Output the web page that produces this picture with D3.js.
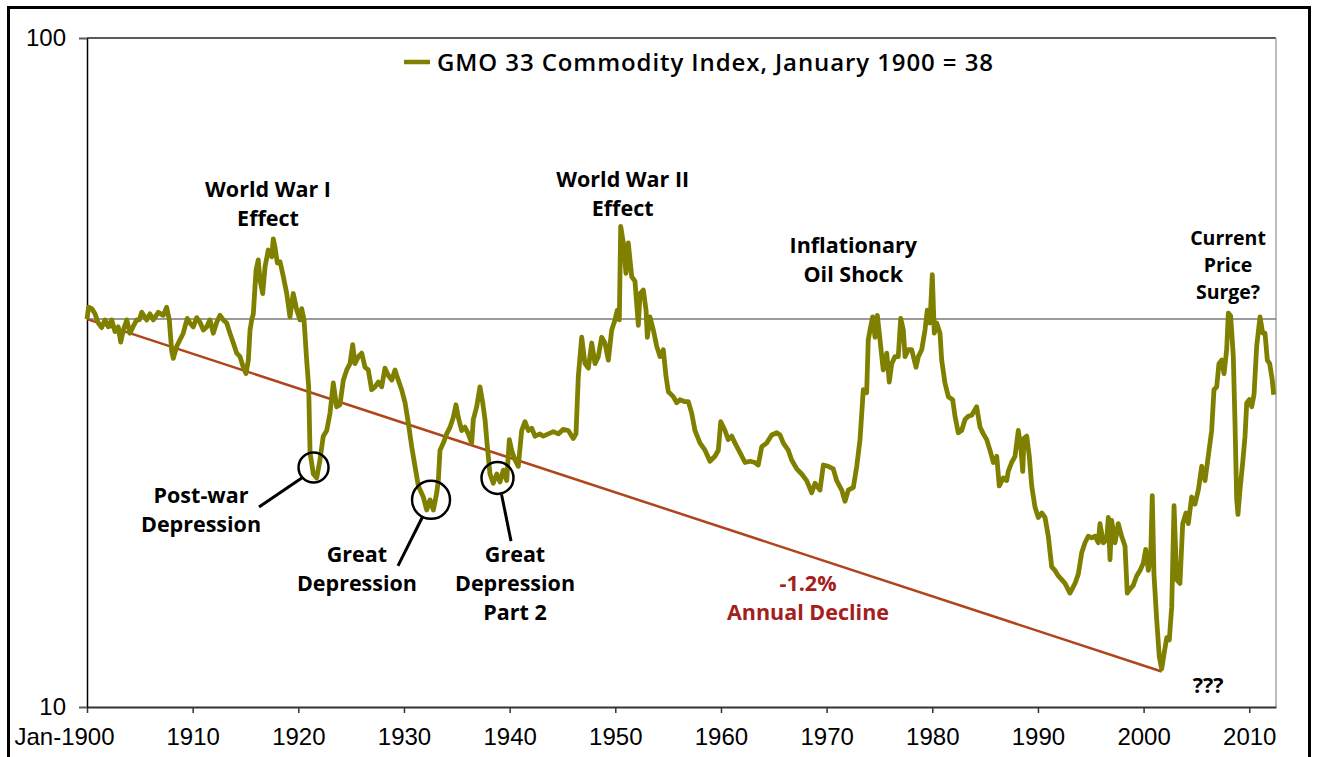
<!DOCTYPE html>
<html>
<head>
<meta charset="utf-8">
<script src="https://cdn.jsdelivr.net/npm/d3@7"></script>
<style>
  html, body { margin: 0; padding: 0; background: #fff; }
  svg { display: block; }
  .note { font-family: "Open Sans", sans-serif; font-weight: 700; font-size: 21.5px; fill: #000; text-anchor: middle; }
  .note.red { fill: #a3201c; }
  .note.tight { font-size: 19.5px; }
  .legend-text { font-family: "Open Sans", sans-serif; font-weight: 600; font-size: 24px; fill: #000; }
  .axis text { font-family: "Liberation Sans", Arial, sans-serif; font-size: 24px; fill: #000; }
</style>
</head>
<body>
<div id="chart"></div>
<script>
// GMO 33 commodity index, [year, value]
var gmoIndex = [
  [1900.0, 38.0], [1900.15, 39.6], [1900.45, 39.4], [1900.76, 38.7], [1901.07, 37.5], [1901.39, 36.9],
  [1901.7, 37.9], [1902.02, 37.0], [1902.34, 37.9], [1902.65, 36.4], [1902.96, 37.0], [1903.19, 35.1],
  [1903.44, 36.6], [1903.76, 37.9], [1904.07, 36.2], [1904.35, 37.0], [1904.7, 37.9], [1904.95, 37.9],
  [1905.18, 38.9], [1905.65, 37.9], [1905.96, 38.7], [1906.27, 37.9], [1906.75, 38.9], [1907.22, 38.5],
  [1907.54, 39.6], [1907.79, 37.9], [1908.02, 34.0], [1908.17, 33.2], [1908.49, 34.6], [1908.8, 35.4],
  [1909.11, 36.2], [1909.49, 38.1], [1909.75, 37.5], [1910.06, 37.0], [1910.38, 38.2], [1910.69, 37.6],
  [1911.01, 36.6], [1911.33, 37.0], [1911.64, 37.9], [1911.95, 36.2], [1912.28, 37.6], [1912.59, 38.5],
  [1912.9, 37.9], [1913.22, 37.5], [1913.53, 36.2], [1913.85, 35.0], [1914.17, 33.8], [1914.48, 33.4],
  [1914.79, 32.2], [1915.05, 31.5], [1915.27, 33.0], [1915.43, 36.6], [1915.59, 37.9], [1915.74, 38.7],
  [1916.0, 45.0], [1916.21, 46.6], [1916.37, 43.5], [1916.63, 41.5], [1916.85, 45.5], [1917.16, 48.2],
  [1917.48, 47.1], [1917.63, 50.1], [1917.79, 48.7], [1918.01, 46.1], [1918.27, 46.3], [1918.58, 44.0],
  [1918.9, 41.5], [1919.21, 38.3], [1919.52, 41.5], [1919.85, 39.2], [1920.16, 37.9], [1920.32, 39.4],
  [1920.54, 37.9], [1920.79, 33.0], [1920.98, 30.1], [1921.11, 24.0], [1921.42, 22.3], [1921.74, 22.0],
  [1922.05, 23.4], [1922.36, 25.4], [1922.69, 25.9], [1923.0, 27.5], [1923.31, 30.5], [1923.63, 28.1],
  [1923.94, 28.3], [1924.26, 30.8], [1924.58, 31.9], [1924.89, 32.6], [1925.15, 34.8], [1925.36, 32.6],
  [1925.68, 33.4], [1926.0, 33.8], [1926.31, 32.2], [1926.62, 31.9], [1926.94, 29.8], [1927.26, 30.1],
  [1927.57, 30.6], [1927.89, 30.1], [1928.2, 32.1], [1928.52, 31.3], [1928.84, 30.8], [1929.15, 31.9],
  [1929.46, 30.8], [1929.78, 29.8], [1930.1, 28.5], [1930.41, 26.6], [1930.73, 24.5], [1931.04, 22.9],
  [1931.36, 21.4], [1931.83, 20.6], [1932.15, 19.7], [1932.46, 20.4], [1932.78, 19.7], [1933.1, 20.9],
  [1933.25, 21.8], [1933.41, 24.2], [1933.72, 24.8], [1934.04, 25.6], [1934.36, 26.2], [1934.67, 27.1],
  [1934.92, 28.3], [1935.14, 27.1], [1935.46, 25.9], [1935.77, 26.2], [1936.09, 25.6], [1936.41, 24.8],
  [1936.56, 26.9], [1936.88, 28.1], [1937.19, 30.1], [1937.45, 28.5], [1937.67, 26.9], [1937.89, 24.5],
  [1938.14, 22.3], [1938.45, 21.6], [1938.78, 22.3], [1939.09, 21.7], [1939.4, 22.6], [1939.72, 21.8],
  [1939.97, 25.1], [1940.19, 24.2], [1940.51, 23.4], [1940.82, 22.9], [1941.14, 25.9], [1941.45, 26.7],
  [1941.77, 25.9], [1942.09, 26.1], [1942.4, 25.4], [1942.87, 25.6], [1943.19, 25.4], [1943.66, 25.6],
  [1944.13, 25.8], [1944.61, 25.6], [1945.08, 26.0], [1945.55, 25.9], [1946.02, 25.2], [1946.28, 25.6],
  [1946.5, 31.2], [1946.82, 35.7], [1947.13, 32.6], [1947.45, 32.1], [1947.77, 35.0], [1948.08, 32.6],
  [1948.39, 33.4], [1948.71, 35.7], [1949.02, 35.0], [1949.34, 33.0], [1949.66, 36.6], [1949.97, 37.9],
  [1950.19, 39.2], [1950.38, 37.9], [1950.51, 52.3], [1950.76, 49.4], [1951.01, 44.5], [1951.23, 49.4],
  [1951.55, 44.0], [1951.86, 43.3], [1952.18, 37.2], [1952.34, 41.5], [1952.65, 42.0], [1952.91, 39.2],
  [1953.03, 35.7], [1953.28, 38.3], [1953.6, 36.6], [1953.92, 34.6], [1954.23, 33.4], [1954.54, 34.2],
  [1954.8, 31.2], [1955.02, 29.6], [1955.49, 29.1], [1955.81, 28.5], [1956.12, 28.8], [1956.59, 28.6],
  [1956.91, 28.6], [1957.23, 27.5], [1957.54, 25.9], [1958.02, 24.8], [1958.49, 24.2], [1958.96, 23.3],
  [1959.43, 23.7], [1959.75, 24.2], [1959.98, 26.7], [1960.38, 25.9], [1960.69, 25.1], [1961.02, 25.4],
  [1961.33, 24.8], [1961.8, 24.0], [1962.28, 23.2], [1962.75, 23.3], [1963.22, 23.2], [1963.53, 23.0],
  [1963.86, 24.5], [1964.33, 24.8], [1964.8, 25.5], [1965.28, 25.7], [1965.59, 25.5], [1965.9, 24.8],
  [1966.37, 24.2], [1966.69, 23.4], [1967.17, 22.7], [1967.64, 22.3], [1968.11, 21.8], [1968.59, 20.9],
  [1968.9, 21.6], [1969.37, 21.1], [1969.69, 23.0], [1970.16, 22.9], [1970.63, 22.7], [1970.95, 21.8],
  [1971.43, 21.1], [1971.74, 20.3], [1972.05, 21.1], [1972.53, 21.3], [1972.85, 22.9], [1973.16, 25.1],
  [1973.47, 29.8], [1973.79, 29.5], [1973.94, 35.4], [1974.11, 36.6], [1974.36, 38.3], [1974.58, 35.7],
  [1974.8, 38.5], [1975.05, 35.4], [1975.36, 31.9], [1975.69, 33.8], [1975.93, 30.6], [1976.16, 32.6],
  [1976.47, 33.4], [1976.78, 33.4], [1977.01, 38.1], [1977.26, 36.6], [1977.42, 33.4], [1977.73, 34.2],
  [1978.05, 34.2], [1978.46, 32.2], [1978.68, 33.4], [1979.0, 34.2], [1979.31, 36.6], [1979.53, 39.2],
  [1979.78, 37.5], [1980.0, 44.3], [1980.19, 36.2], [1980.42, 37.5], [1980.73, 36.2], [1980.89, 33.0],
  [1981.2, 30.5], [1981.52, 29.1], [1981.93, 28.8], [1982.15, 27.2], [1982.46, 25.7], [1982.78, 25.9],
  [1983.1, 26.9], [1983.41, 27.2], [1983.73, 27.3], [1984.2, 28.1], [1984.52, 26.2], [1984.83, 25.6],
  [1985.15, 25.1], [1985.46, 24.2], [1985.78, 23.2], [1986.1, 23.7], [1986.34, 21.4], [1986.72, 22.0],
  [1987.04, 21.8], [1987.19, 22.5], [1987.51, 23.2], [1987.83, 23.7], [1988.14, 25.9], [1988.37, 24.5],
  [1988.56, 22.5], [1988.68, 25.2], [1988.94, 25.4], [1989.18, 23.7], [1989.41, 21.4], [1989.72, 19.9],
  [1990.03, 19.2], [1990.36, 19.5], [1990.67, 19.2], [1990.98, 18.0], [1991.3, 16.2], [1991.61, 16.0],
  [1991.93, 15.7], [1992.25, 15.5], [1992.56, 15.3], [1993.03, 14.8], [1993.51, 15.3], [1993.82, 15.8],
  [1994.14, 17.0], [1994.45, 17.6], [1994.77, 18.0], [1995.08, 17.9], [1995.4, 18.0], [1995.71, 17.6],
  [1995.87, 18.8], [1996.19, 17.6], [1996.51, 17.8], [1996.66, 19.2], [1996.82, 16.6], [1996.98, 19.0],
  [1997.29, 17.6], [1997.6, 18.8], [1997.92, 18.0], [1998.24, 17.4], [1998.45, 14.8], [1998.71, 15.0],
  [1999.02, 15.2], [1999.34, 15.7], [1999.66, 16.0], [1999.97, 16.4], [2000.2, 17.2], [2000.45, 16.0],
  [2000.67, 16.8], [2000.82, 20.7], [2000.98, 15.8], [2001.24, 13.5], [2001.48, 11.9], [2001.71, 11.4],
  [2001.93, 12.0], [2002.19, 12.7], [2002.43, 12.6], [2002.66, 14.1], [2002.88, 20.0], [2003.13, 15.5],
  [2003.44, 15.3], [2003.7, 18.8], [2004.01, 19.5], [2004.23, 18.8], [2004.55, 20.6], [2004.86, 20.1],
  [2005.18, 21.1], [2005.5, 22.9], [2005.81, 21.8], [2006.12, 23.7], [2006.44, 25.9], [2006.66, 29.8],
  [2006.92, 30.1], [2007.13, 32.6], [2007.39, 33.0], [2007.61, 31.5], [2007.86, 34.2], [2008.02, 38.8],
  [2008.24, 38.4], [2008.49, 33.4], [2008.65, 26.6], [2008.81, 20.4], [2008.93, 19.4], [2009.12, 21.1],
  [2009.38, 23.2], [2009.6, 25.4], [2009.76, 28.5], [2010.01, 28.8], [2010.23, 28.1], [2010.45, 29.3],
  [2010.7, 34.6], [2011.02, 38.3], [2011.27, 36.2], [2011.49, 36.2], [2011.71, 33.0], [2011.93, 32.6],
  [2012.18, 30.8], [2012.31, 29.3]
];

// -1.2% per year trend line, start and end
var trendLine = [[1900.0, 38.0], [2001.7, 11.3]];
var baseValue = 38;

var tickYears = [1900, 1910, 1920, 1930, 1940, 1950, 1960, 1970, 1980, 1990, 2000, 2010];
var tickLabels = ["Jan-1900", "1910", "1920", "1930", "1940", "1950", "1960", "1970", "1980", "1990", "2000", "2010"];
var yTicks = [10, 100];

var legendLabel = "GMO 33 Commodity Index, January 1900 = 38";

// annotations: first baseline anchored at [year, value], lead = line spacing in px
var notes = [
  { lines: ["World War I", "Effect"], at: [1917.13, 57.8], lead: 29 },
  { lines: ["World War II", "Effect"], at: [1950.7, 59.9], lead: 29 },
  { lines: ["Inflationary", "Oil Shock"], at: [1972.52, 47.7], lead: 29 },
  { lines: ["Current", "Price", "Surge?"], at: [2007.99, 49.1], lead: 27, tight: true },
  { lines: ["Post-war", "Depression"], at: [1910.79, 20.2], lead: 29.5 },
  { lines: ["Great", "Depression"], at: [1925.55, 16.5], lead: 29 },
  { lines: ["Great", "Depression", "Part 2"], at: [1940.51, 16.5], lead: 29 },
  { lines: ["-1.2%", "Annual Decline"], at: [1968.24, 14.9], lead: 29, red: true },
  { lines: ["???"], at: [2006.1, 10.5], lead: 0 }
];

// circled lows and their leader lines
var circles = [
  { at: [1921.44, 22.8], r: 15 },
  { at: [1932.56, 20.4], r: 19 },
  { at: [1938.85, 22.0], r: 16 }
];
var leaders = [
  [[1920.43, 22.05], [1916.28, 19.9]],
  [[1931.8, 19.3], [1929.43, 16.25]],
  [[1939.23, 20.8], [1940.13, 17.7]]
];

var margin = { top: 38, right: 41, bottom: 50, left: 87 },
  width = 1317 - margin.left - margin.right,
  height = 757 - margin.top - margin.bottom;

var root = d3
  .select("#chart")
  .append("svg")
  .attr("width", 1317)
  .attr("height", 757);

// outer frame
root
  .append("rect")
  .attr("x", 8.5)
  .attr("y", 7.5)
  .attr("width", 1301)
  .attr("height", 770)
  .attr("fill", "none")
  .attr("stroke", "#000")
  .attr("stroke-width", 3);

var svg = root
  .append("g")
  .attr("transform", "translate(" + margin.left + "," + margin.top + ")");

var x = d3.scaleLinear().domain([1900, 2012.53]).range([0, width]);
var y = d3.scaleLog().domain([10, 100]).range([height, 0]);

// plot border (top and right)
svg
  .append("line")
  .attr("x1", 0)
  .attr("x2", width)
  .attr("y1", y(100))
  .attr("y2", y(100))
  .attr("stroke", "#5a5a5a")
  .attr("stroke-width", 2);
svg
  .append("line")
  .attr("x1", width)
  .attr("x2", width)
  .attr("y1", y(100))
  .attr("y2", y(10))
  .attr("stroke", "#a6a6a6")
  .attr("stroke-width", 1.5);

// reference line at 38
svg
  .append("line")
  .attr("x1", 0)
  .attr("x2", width)
  .attr("y1", y(baseValue))
  .attr("y2", y(baseValue))
  .attr("stroke", "#7a7a7a")
  .attr("stroke-width", 1.5);

// axes
var xAxis = svg
  .append("g")
  .attr("class", "axis")
  .attr("transform", "translate(0," + height + ")")
  .call(
    d3
      .axisBottom(x)
      .tickValues(tickYears)
      .tickFormat(function (d, i) {
        return tickLabels[i];
      })
      .tickSize(6)
      .tickSizeOuter(0)
      .tickPadding(15)
  );
xAxis.select(".domain").attr("stroke", "#333").attr("stroke-width", 2);
xAxis.selectAll(".tick line").attr("stroke", "#333").attr("stroke-width", 1.5);
xAxis
  .selectAll(".tick text")
  .filter(function (d, i) {
    return i === 0;
  })
  .attr("dx", -23);

var yAxis = svg
  .append("g")
  .attr("class", "axis")
  .call(
    d3
      .axisLeft(y)
      .tickValues(yTicks)
      .tickFormat(d3.format("d"))
      .tickSize(8)
      .tickSizeOuter(0)
      .tickPadding(13)
  );
yAxis.select(".domain").attr("stroke", "#000").attr("stroke-width", 1.5);
yAxis.selectAll(".tick line").attr("stroke", "#5a5a5a").attr("stroke-width", 2);

var line = d3
  .line()
  .x(function (d) {
    return x(d[0]);
  })
  .y(function (d) {
    return y(d[1]);
  });

// trend line
svg
  .append("path")
  .datum(trendLine)
  .attr("fill", "none")
  .attr("stroke", "#b0451c")
  .attr("stroke-width", 2.5)
  .attr("d", line);

// index line
svg
  .append("path")
  .datum(gmoIndex)
  .attr("fill", "none")
  .attr("stroke", "#808000")
  .attr("stroke-width", 4.8)
  .attr("stroke-linejoin", "round")
  .attr("d", line);

// circles and leaders
svg
  .selectAll(".ring")
  .data(circles)
  .enter()
  .append("circle")
  .attr("cx", function (d) {
    return x(d.at[0]);
  })
  .attr("cy", function (d) {
    return y(d.at[1]);
  })
  .attr("r", function (d) {
    return d.r;
  })
  .attr("fill", "none")
  .attr("stroke", "#000")
  .attr("stroke-width", 2.5);

svg
  .selectAll(".leader")
  .data(leaders)
  .enter()
  .append("path")
  .attr("fill", "none")
  .attr("stroke", "#000")
  .attr("stroke-width", 3)
  .attr("d", line);

// annotation text, one text element per note
var noteText = svg
  .selectAll(".note")
  .data(notes)
  .enter()
  .append("text")
  .attr("class", function (d) {
    return "note" + (d.red ? " red" : "") + (d.tight ? " tight" : "");
  })
  .attr("y", function (d) {
    return y(d.at[1]);
  });

noteText
  .selectAll("tspan")
  .data(function (d) {
    return d.lines.map(function (t, i) {
      return { text: t, x: x(d.at[0]), dy: i === 0 ? 0 : d.lead };
    });
  })
  .enter()
  .append("tspan")
  .attr("x", function (d) {
    return d.x;
  })
  .attr("dy", function (d) {
    return d.dy;
  })
  .text(function (d) {
    return d.text;
  });

// legend
var legend = root.append("g").attr("transform", "translate(404,62)");
legend
  .append("line")
  .attr("x1", 0)
  .attr("x2", 26)
  .attr("stroke", "#808000")
  .attr("stroke-width", 4.5);
legend
  .append("text")
  .attr("x", 33)
  .attr("y", 8.5)
  .attr("class", "legend-text")
  .attr("textLength", 556)
  .attr("lengthAdjust", "spacing")
  .text(legendLabel);
</script>
</body>
</html>
